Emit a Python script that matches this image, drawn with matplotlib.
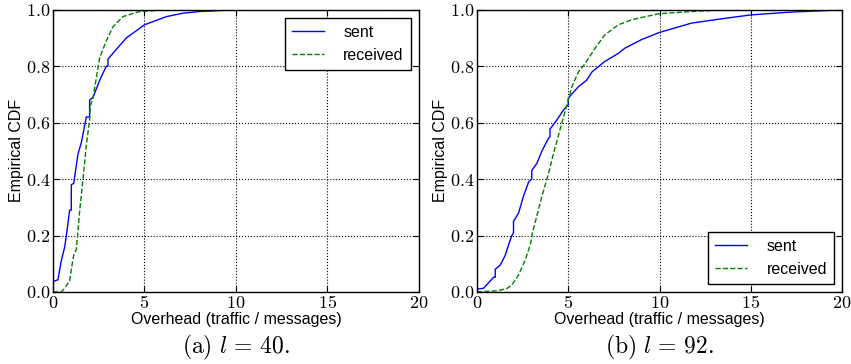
import numpy as np
import matplotlib
matplotlib.use('Agg')
import matplotlib.pyplot as plt
from matplotlib.ticker import FuncFormatter

plt.rcParams['mathtext.fontset'] = 'cm'
plt.rcParams['font.family'] = ['Liberation Sans', 'DejaVu Sans']

# panel (a), l = 40 : points
a_sent_x = [0, 0, 0.27, 0.45, 0.64, 0.73, 0.91, 1.0, 1.0, 1.13, 1.37, 1.55, 1.82, 2.0, 2.0,
            2.19, 2.55, 2.91, 3.0, 3.0, 3.46, 4.0, 5.0, 6.2, 7.1, 8.0, 10.0, 20.0]
a_sent_y = [0, 0.037, 0.043, 0.11, 0.16, 0.2, 0.29, 0.29, 0.38, 0.385, 0.49, 0.53, 0.62, 0.62, 0.68,
            0.69, 0.75, 0.8, 0.8, 0.825, 0.86, 0.9, 0.947, 0.976, 0.988, 0.994, 1.0, 1.0]
a_recv_x = [0, 0.45, 0.64, 0.91, 1.05, 1.13, 1.27, 1.37, 1.46, 1.64, 1.82, 2.0, 2.04, 2.19, 2.37,
            2.55, 2.91, 3.28, 3.82, 4.73, 6.2, 20.0]
a_recv_y = [0, 0, 0.013, 0.04, 0.1, 0.13, 0.15, 0.22, 0.29, 0.4, 0.52, 0.61, 0.66, 0.69, 0.76,
            0.83, 0.89, 0.94, 0.976, 0.994, 1.0, 1.0]

# panel (b), l = 92
b_sent_x = [0, 0.36, 0.64, 0.91, 1.0, 1.0, 1.28, 1.55, 1.73, 1.91, 2.0, 2.0, 2.28, 2.55, 2.83,
            3.0, 3.0, 3.28, 3.56, 3.92, 4.0, 4.0, 4.38, 4.74, 5.0, 5.0, 5.56, 6.0, 6.3, 7.0,
            7.75, 8.1, 9.0, 10.0, 11.76, 13.6, 15.0, 17.2, 20.0]
b_sent_y = [0.01, 0.013, 0.033, 0.052, 0.052, 0.08, 0.096, 0.13, 0.167, 0.2, 0.21, 0.25, 0.28, 0.34, 0.39,
            0.4, 0.43, 0.456, 0.5, 0.545, 0.55, 0.577, 0.61, 0.645, 0.663, 0.687, 0.728, 0.75, 0.78, 0.817,
            0.846, 0.864, 0.894, 0.92, 0.953, 0.97, 0.982, 0.992, 1.0]
b_recv_x = [0, 1.1, 1.64, 1.91, 2.28, 2.64, 2.92, 3.04, 3.28, 3.56, 3.92, 4.19, 4.47, 4.74, 5.0,
            5.2, 5.56, 5.93, 6.47, 7.0, 7.75, 8.48, 9.94, 11.76, 13.6, 20.0]
b_recv_y = [0, 0.004, 0.012, 0.025, 0.06, 0.113, 0.167, 0.21, 0.27, 0.34, 0.42, 0.49, 0.557, 0.62, 0.68,
            0.728, 0.78, 0.81, 0.864, 0.911, 0.947, 0.965, 0.986, 0.994, 1.0, 1.0]

xticks = [0, 5, 10, 15, 20]
yticks = [0.0, 0.2, 0.4, 0.6, 0.8, 1.0]

fig = plt.figure(figsize=(8.51, 3.64), dpi=100)
ax1 = fig.add_axes([0.0623, 0.198, 0.430, 0.775])
ax2 = fig.add_axes([0.5605, 0.198, 0.429, 0.775])

panels = [
    (ax1, a_sent_x, a_sent_y, a_recv_x, a_recv_y, 'upper right', r'$\mathrm{(a)}\ l\, =\, 40.$'),
    (ax2, b_sent_x, b_sent_y, b_recv_x, b_recv_y, 'lower right', r'$\mathrm{(b)}\ l\, =\, 92.$'),
]

for ax, sx, sy, rx, ry, loc, cap in panels:
    ax.plot(sx, sy, '-', color='#0000ff', lw=1.0, label='sent')
    ax.plot(rx, ry, '--', color='#008000', lw=1.0, label='received')
    ax.set_xlim(0, 20)
    ax.set_ylim(0, 1.0)
    ax.set_xticks(xticks)
    ax.set_yticks(yticks)
    ax.xaxis.set_major_formatter(FuncFormatter(lambda v, p: r'$%d$' % v))
    ax.yaxis.set_major_formatter(FuncFormatter(lambda v, p: r'$%.1f$' % v))
    ax.tick_params(direction='in', top=True, right=True, length=4, width=0.8,
                   labelsize=13, pad=2)
    ax.grid(True, linestyle=':', color='black', linewidth=0.8)
    for s in ax.spines.values():
        s.set_linewidth(1.0)
    ax.set_xlabel('Overhead (traffic / messages)', fontsize=11.5, labelpad=0)
    ax.set_ylabel('Empirical CDF', fontsize=11.5, labelpad=1)
    leg = ax.legend(loc=loc, fontsize=11.5, fancybox=False, framealpha=1,
                    handlelength=2.0, handletextpad=1.2, borderpad=0.45)
    leg.get_frame().set_edgecolor('black')
    leg.get_frame().set_linewidth(1.0)
    ax.text(0.5, -0.145, cap, transform=ax.transAxes, ha='center', va='top', fontsize=17)

fig.savefig('out.png', dpi=100)
